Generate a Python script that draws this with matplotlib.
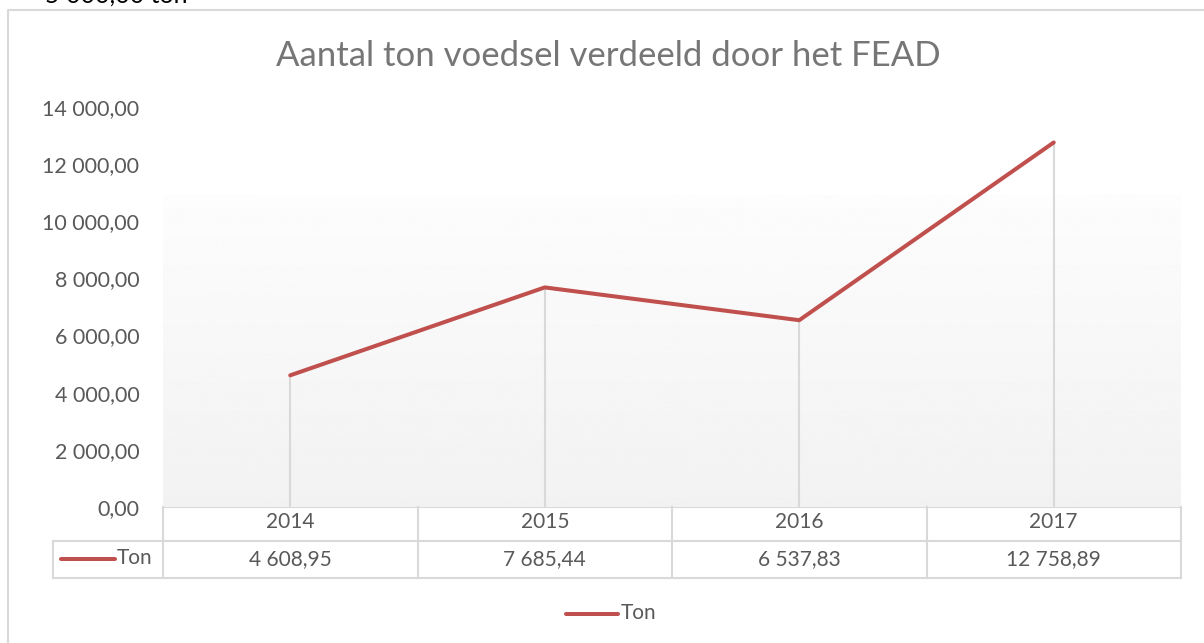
import numpy as np
import matplotlib
matplotlib.use('Agg')
import matplotlib.pyplot as plt
from matplotlib.transforms import blended_transform_factory

# Datos
jaren = ['2014', '2015', '2016', '2017']
ton = [4608.95, 7685.44, 6537.83, 12758.89]
y_ticks = [0, 2000, 4000, 6000, 8000, 10000, 12000, 14000]
reeks = 'Ton'
titel = 'Aantal ton voedsel verdeeld door het FEAD'

rood = '#C0504D'
tekst = '#595959'
rand = '#D9D9D9'

plt.rcParams['font.family'] = ['Lato', 'DejaVu Sans']


def nl(v):
    # 12758.89 -> "12 758,89"
    s = f'{v:,.2f}'
    return s.replace(',', ' ').replace('.', ',')


W, H = 1204, 643
fig = plt.figure(figsize=(W / 100, H / 100), dpi=100)

# overlay in pixel coordinates for frame, table and legend
ov = fig.add_axes([0, 0, 1, 1])
ov.set_xlim(0, W)
ov.set_ylim(H, 0)
ov.axis('off')

# plot area
ax = fig.add_axes([163 / W, 1 - 507 / H, (1181 - 163) / W, (507 - 107) / H])
x = np.arange(len(jaren))
ax.set_xlim(-0.5, len(jaren) - 0.5)
ax.set_ylim(0, 14000)

# gradient background
grad = np.linspace(0.948, 0.99, 256).reshape(-1, 1)
ax.imshow(grad, cmap='gray', vmin=0, vmax=1, origin='lower', aspect='auto',
          extent=(-0.5, len(jaren) - 0.5, 0, 10900), zorder=0)

ax.vlines(x, 0, ton, color=rand, lw=1.5, zorder=1)
ax.plot(x, ton, color=rood, lw=2.9, solid_capstyle='round', zorder=3)

ax.set_yticks(y_ticks)
ax.set_yticklabels([nl(t) for t in y_ticks], fontsize=15.5, color=tekst)
ax.tick_params(axis='y', length=0, pad=17)
ax.set_xticks([])
for s in ax.spines.values():
    s.set_visible(False)

# outer chart frame + clipped document text
ov.plot([8, 8, W + 5], [H + 5, 10, 10], color=rand, lw=1.5)
ov.text(45, 3, '5 000,00 ton', fontsize=18, color='black', va='baseline')

# title
ov.text(608, 56, titel, fontsize=25, color='#767676', ha='center', va='center')

# data table
tr = blended_transform_factory(ax.transData, ov.transData)
y_top, y_mid, y_bot = 507, 541, 578
ov.plot([163, 1181], [y_top, y_top], color=rand, lw=1.5)
ov.plot([53, 1181], [y_mid, y_mid], color=rand, lw=1.5)
ov.plot([53, 1181], [y_bot, y_bot], color=rand, lw=1.5)
ov.plot([53, 53], [y_mid, y_bot], color=rand, lw=1.5)
for b in np.arange(len(jaren) + 1) - 0.5:
    ax.plot([b, b], [y_top, y_bot], color=rand, lw=1.5, transform=tr, clip_on=False)
for i, (j, v) in enumerate(zip(jaren, ton)):
    ax.text(i, 522, j, transform=tr, ha='center', va='center', fontsize=15, color=tekst)
    ax.text(i, 559, nl(v), transform=tr, ha='center', va='center', fontsize=15, color=tekst)
ov.plot([61, 115], [559, 559], color=rood, lw=2.9, solid_capstyle='round')
ov.text(117, 558, reeks, fontsize=15, color=tekst, va='center')

# legend
ov.plot([566, 618], [614, 614], color=rood, lw=2.9, solid_capstyle='round')
ov.text(621, 613, reeks, fontsize=15, color=tekst, va='center')

fig.savefig('out.png', dpi=100)
